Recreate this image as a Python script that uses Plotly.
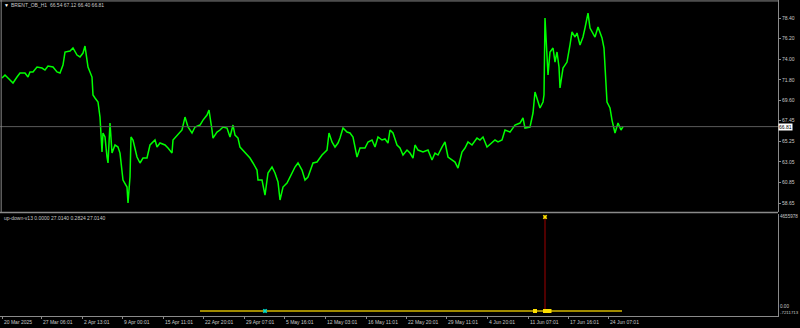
import plotly.graph_objects as go

# ---- data (H1 bar number, close price) ----
bars = [4, 10, 16, 20, 26, 34, 40, 50, 56, 60, 66, 74, 84, 90, 96, 106, 114, 120, 126, 130,
        140, 146, 154, 160, 166, 170, 174, 176, 184, 186, 190, 196, 200, 202, 204, 206, 210, 214, 216, 220,
        224, 230, 236, 240, 244, 246, 254, 256, 260, 262, 266, 274, 280, 286, 294, 300, 310, 314, 320, 330,
        336, 344, 346, 354, 364, 370, 376, 384, 390, 400, 406, 414, 418, 424, 426, 434, 440, 446, 454, 460,
        466, 470, 476, 480, 486, 494, 500, 506, 514, 516, 524, 530, 536, 544, 550, 556, 560, 566, 574, 580,
        590, 596, 604, 610, 616, 626, 634, 644, 654, 658, 664, 670, 676, 680, 686, 694, 700, 706, 710, 714,
        720, 730, 736, 744, 750, 756, 764, 770, 776, 780, 786, 794, 800, 806, 814, 820, 826, 830, 836, 846,
        856, 864, 870, 876, 884, 890, 896, 904, 910, 916, 924, 930, 936, 944, 954, 960, 966, 974, 982, 990,
        996, 1004, 1010, 1020, 1030, 1040, 1046, 1050, 1060, 1066, 1070, 1074, 1080, 1086, 1088, 1090, 1092, 1094, 1096, 1100,
        1106, 1110, 1114, 1118, 1120, 1126, 1134, 1140, 1144, 1150, 1154, 1160, 1166, 1170, 1176, 1180, 1186, 1190, 1196, 1204,
        1208, 1212, 1214, 1220, 1224, 1230, 1236, 1242, 1246]
close = [72.00, 72.32, 72.00, 71.78, 71.46, 72.10, 72.53, 72.53, 72.10, 72.64, 72.64, 73.17, 73.06, 72.85, 73.28, 73.17, 72.64, 72.53, 73.38, 74.77,
         74.88, 75.20, 74.45, 74.24, 74.66, 75.41, 73.92, 73.17, 72.10, 70.18, 69.86, 69.44, 67.83, 65.38, 64.10, 66.13, 65.70, 63.57, 62.93, 67.19,
         63.99, 64.85, 64.63, 63.99, 62.18, 61.11, 60.36, 58.66, 61.43, 65.70, 65.38, 63.57, 62.93, 63.46, 63.46, 64.85, 65.38, 64.63, 65.06, 64.85,
         64.53, 63.99, 65.38, 65.91, 66.45, 67.83, 66.77, 66.13, 66.77, 66.98, 67.51, 68.05, 68.58, 66.45, 65.59, 66.23, 66.45, 66.77, 66.66, 65.70,
         66.98, 65.91, 65.59, 64.63, 64.31, 63.78, 63.46, 62.93, 62.18, 61.11, 61.11, 59.51, 61.86, 62.50, 61.86, 60.90, 58.98, 60.36, 60.79, 61.43,
         62.50, 62.93, 62.18, 61.11, 61.43, 62.93, 63.03, 63.78, 64.31, 66.13, 65.17, 64.63, 65.06, 65.59, 66.66, 66.23, 66.13, 65.70, 64.63, 63.57,
         64.53, 64.53, 65.17, 65.38, 64.63, 65.70, 65.38, 65.49, 65.06, 66.45, 66.13, 64.85, 64.53, 63.78, 64.31, 63.99, 63.46, 64.85, 64.31, 64.10,
         64.31, 63.25, 63.99, 63.78, 64.63, 65.17, 63.57, 63.25, 63.03, 62.39, 64.10, 64.53, 65.17, 64.85, 65.59, 65.38, 65.70, 64.63, 65.06, 65.38,
         65.17, 65.38, 66.45, 66.23, 66.98, 67.19, 67.73, 66.66, 66.77, 68.26, 70.50, 69.86, 68.80, 69.44, 70.18, 78.40, 76.27, 74.13, 72.32, 74.77,
         75.20, 73.70, 74.77, 73.17, 70.93, 73.06, 73.70, 75.52, 76.91, 76.37, 76.80, 75.52, 76.37, 77.33, 78.93, 77.33, 76.80, 76.37, 77.44, 76.27,
         75.20, 71.25, 69.44, 68.80, 67.51, 66.13, 67.19, 66.45, 66.81]

last_close = 66.81
price_ticks = [78.40, 76.20, 74.00, 71.80, 69.60, 67.45, 65.25, 63.05, 60.85, 58.65]

time_tick_bars = [4, 82, 164, 244, 326, 406, 488, 568, 650, 732, 812, 892, 974, 1056, 1136, 1216]
time_tick_labels = ["20 Mar 2025", "27 Mar 06:01", "2 Apr 13:01", "9 Apr 00:01", "15 Apr 11:01",
                    "22 Apr 20:01", "29 Apr 07:01", "5 May 16:01", "12 May 03:01", "16 May 11:01",
                    "22 May 20:01", "29 May 11:01", "4 Jun 20:01", "11 Jun 07:01", "17 Jun 16:01",
                    "24 Jun 07:01"]

# indicator (up-down-v13)
ind_line_bars = [400, 1244]
ind_line_vals = [0, 0]
ind_spike_bar = 1090
ind_spike_val = 4655978
ind_min_label = "-7211713"
ind_cyan_bars = [530]
ind_cyan_vals = [0]
ind_yellow_bars = [1070, 1090, 1093, 1096, 1099]
ind_yellow_vals = [0, 0, 0, 0, 0]

FONT = "Liberation Sans"
TXT = "#c8c8c8"
AX = "#8a8a8a"

fig = go.Figure()
fig.add_trace(go.Scatter(x=bars, y=close, mode="lines",
                         line=dict(color="#00ff00", width=1.5), xaxis="x", yaxis="y",
                         hoverinfo="skip"))
fig.add_trace(go.Scatter(x=ind_line_bars, y=ind_line_vals, mode="lines",
                         line=dict(color="#a08a00", width=2), xaxis="x", yaxis="y2"))
fig.add_trace(go.Scatter(x=[ind_spike_bar, ind_spike_bar], y=[0, ind_spike_val], mode="lines",
                         line=dict(color="#a00000", width=1), xaxis="x", yaxis="y2"))
fig.add_trace(go.Scatter(x=[ind_spike_bar], y=[ind_spike_val], mode="markers",
                         marker=dict(symbol="x", size=4, color="#ffe000"), xaxis="x", yaxis="y2"))
fig.add_trace(go.Scatter(x=ind_yellow_bars, y=ind_yellow_vals, mode="markers",
                         marker=dict(symbol="square", size=4, color="#ffe000"), xaxis="x", yaxis="y2"))
fig.add_trace(go.Scatter(x=ind_cyan_bars, y=ind_cyan_vals, mode="markers",
                         marker=dict(symbol="x", size=4, color="#00e0d0"), xaxis="x", yaxis="y2"))

main_lo, main_hi = 57.70, 80.32
ind_lo, ind_hi = -247658, 4804572

fig.update_layout(
    width=800, height=328, autosize=False,
    margin=dict(l=0, r=22, t=0, b=12),
    paper_bgcolor="#000000", plot_bgcolor="#000000",
    showlegend=False,
    font=dict(family=FONT, size=5, color=TXT),
    xaxis=dict(range=[0, 1556], anchor="y2", showgrid=False, zeroline=False,
               tickvals=time_tick_bars, ticktext=[""] * len(time_tick_bars),
               ticks="outside", ticklen=2, tickcolor=AX,
               showline=True, linecolor=AX, linewidth=1),
    yaxis=dict(domain=[0.3291, 1], range=[main_lo, main_hi], side="right",
               showgrid=False, zeroline=False, tickvals=price_ticks,
               ticktext=[f"{v:.2f}" for v in price_ticks],
               ticks="outside", ticklen=2, tickcolor=AX,
               tickfont=dict(family=FONT, size=5, color=TXT),
               showline=True, linecolor=AX, linewidth=1),
    yaxis2=dict(domain=[0, 0.3228], range=[ind_lo, ind_hi], side="right",
                showgrid=False, zeroline=False, showticklabels=False,
                showline=True, linecolor=AX, linewidth=1),
)

shapes = [
    dict(type="line", xref="paper", yref="y", x0=0, x1=1, y0=last_close, y1=last_close,
         line=dict(color="#5a5a5a", width=1)),
    dict(type="line", xref="paper", yref="paper", x0=0, x1=1, y0=0.3275, y1=0.3275,
         line=dict(color=AX, width=1.5)),
    dict(type="line", xref="paper", yref="paper", x0=0.0015, x1=0.0015, y0=0.3291, y1=1,
         line=dict(color=AX, width=1)),
    dict(type="line", xref="paper", yref="paper", x0=0, x1=1, y0=0.997, y1=0.997,
         line=dict(color=AX, width=1)),
]
fig.update_layout(shapes=shapes)

ann = []
ann.append(dict(text="▼", xref="paper", yref="paper", x=0.003, y=0.984, xanchor="left",
                yanchor="middle", showarrow=False, font=dict(size=5, color="#ffffff")))
ann.append(dict(text="BRENT_OB_H1  66.54 67.12 66.40 66.81", xref="paper", yref="paper",
                x=0.012, y=0.984, xanchor="left", yanchor="middle", showarrow=False,
                font=dict(family=FONT, size=5, color=TXT)))
ann.append(dict(text="up-down-v13 0.0000 27.0140 0.2824 27.0140", xref="paper", yref="paper",
                x=0.002, y=0.310, xanchor="left", yanchor="middle", showarrow=False,
                font=dict(family=FONT, size=5, color=TXT)))
ann.append(dict(text=f"{last_close:.2f}", xref="paper", yref="y", x=1.0, y=last_close,
                xanchor="left", yanchor="middle", showarrow=False, bgcolor="#ffffff",
                font=dict(family=FONT, size=5, color="#000000"), borderpad=0))
ann.append(dict(text=str(ind_spike_val), xref="paper", yref="y2", x=1.0, y=ind_spike_val,
                xanchor="left", yanchor="middle", showarrow=False,
                font=dict(family=FONT, size=4.6, color=TXT)))
ann.append(dict(text="0.00", xref="paper", yref="y2", x=1.0, y=0, yshift=4,
                xanchor="left", yanchor="middle", showarrow=False,
                font=dict(family=FONT, size=4.6, color=TXT)))
ann.append(dict(text=ind_min_label, xref="paper", yref="y2", x=1.0, y=0, yshift=-2,
                xanchor="left", yanchor="middle", showarrow=False,
                font=dict(family=FONT, size=4.4, color=TXT)))
for b, lab in zip(time_tick_bars, time_tick_labels):
    ann.append(dict(text=lab, xref="x", yref="paper", x=b, y=-0.019, xshift=0,
                    xanchor="left", yanchor="middle", showarrow=False,
                    font=dict(family=FONT, size=5, color=TXT)))
fig.update_layout(annotations=ann)

fig.write_html("out.html")
